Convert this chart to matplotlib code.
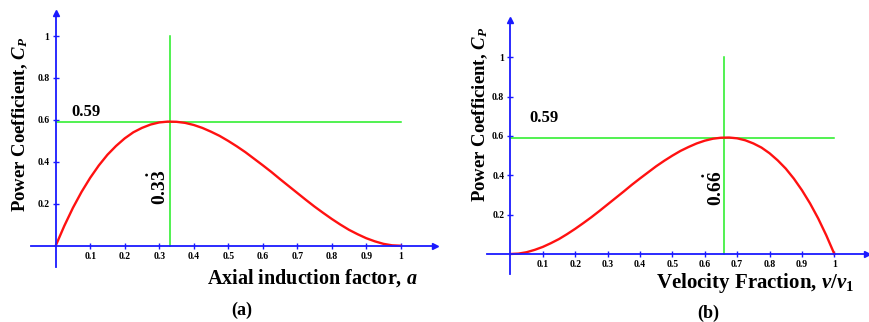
import numpy as np
import matplotlib
matplotlib.use("Agg")
import matplotlib.pyplot as plt

plt.rcParams['font.family'] = ['Liberation Serif', 'DejaVu Serif']
plt.rcParams['font.weight'] = 'bold'
plt.rcParams['mathtext.fontset'] = 'custom'
plt.rcParams['mathtext.rm'] = 'Liberation Serif:bold'
plt.rcParams['mathtext.it'] = 'Liberation Serif:italic:bold'
plt.rcParams['mathtext.bf'] = 'Liberation Serif:bold'

# (a) power coefficient vs axial induction factor
a_vals = [0, 0.025, 0.05, 0.075, 0.1, 0.125, 0.15, 0.175, 0.2, 0.225, 0.25, 0.275,
          0.3, 0.325, 0.35, 0.375, 0.4, 0.425, 0.45, 0.475, 0.5, 0.525, 0.55, 0.575,
          0.6, 0.625, 0.65, 0.675, 0.7, 0.725, 0.75, 0.775, 0.8, 0.825, 0.85, 0.875,
          0.9, 0.925, 0.95, 0.975, 1.0]
cp_a = [0, 0.095, 0.181, 0.257, 0.324, 0.383, 0.434, 0.476, 0.512, 0.541, 0.562, 0.578,
        0.588, 0.592, 0.591, 0.586, 0.576, 0.562, 0.544, 0.524, 0.5, 0.474, 0.446, 0.415,
        0.384, 0.352, 0.318, 0.285, 0.252, 0.219, 0.187, 0.157, 0.128, 0.101, 0.076, 0.055,
        0.036, 0.021, 0.009, 0.002, 0]

# (b) power coefficient vs velocity fraction
v_vals = [0, 0.025, 0.05, 0.075, 0.1, 0.125, 0.15, 0.175, 0.2, 0.225, 0.25, 0.275,
          0.3, 0.325, 0.35, 0.375, 0.4, 0.425, 0.45, 0.475, 0.5, 0.525, 0.55, 0.575,
          0.6, 0.625, 0.65, 0.675, 0.7, 0.725, 0.75, 0.775, 0.8, 0.825, 0.85, 0.875,
          0.9, 0.925, 0.95, 0.975, 1.0]
cp_b = [0, 0.002, 0.009, 0.021, 0.036, 0.055, 0.076, 0.101, 0.128, 0.157, 0.187, 0.219,
        0.252, 0.285, 0.318, 0.352, 0.384, 0.415, 0.446, 0.474, 0.5, 0.524, 0.544, 0.562,
        0.576, 0.586, 0.591, 0.592, 0.588, 0.578, 0.562, 0.541, 0.512, 0.476, 0.434, 0.383,
        0.324, 0.257, 0.181, 0.095, 0]

x_ticks = [0.1, 0.2, 0.3, 0.4, 0.5, 0.6, 0.7, 0.8, 0.9, 1]
y_ticks = [0.2, 0.4, 0.6, 0.8, 1]
cp_max = 0.59
a_opt = 0.33
v_opt = 0.66

W, H = 869, 322
fig = plt.figure(figsize=(W / 100, H / 100), dpi=100)


def make_panel(rect, xlim, ylim, xs, ys, xopt, xend, yend, lbl59, lblopt, ylab):
    l, b, w, h = rect
    ax = fig.add_axes([l / W, b / H, w / W, h / H])
    ax.set_xlim(*xlim)
    ax.set_ylim(*ylim)
    ax.patch.set_alpha(0)
    for s in ['top', 'right']:
        ax.spines[s].set_visible(False)
    for s in ['left', 'bottom']:
        ax.spines[s].set_position(('data', 0))
        ax.spines[s].set_color('#1a1aff')
        ax.spines[s].set_linewidth(1.3)
    ax.spines['bottom'].set_bounds(-0.073, xend)
    ax.spines['left'].set_bounds(-0.1, yend)
    ax.plot(xend, 0, '>', color='#1a1aff', ms=4, clip_on=False)
    ax.plot(0, yend, '^', color='#1a1aff', ms=4, clip_on=False)
    ax.set_xticks(x_ticks)
    ax.set_xticklabels([str(t) for t in x_ticks])
    ax.set_yticks(y_ticks)
    ax.set_yticklabels([str(t) for t in y_ticks])
    ax.tick_params(direction='inout', length=5, width=1, color='#1a1aff',
                   labelsize=7, pad=2)

    ax.plot([0, 1], [cp_max, cp_max], color='#22ee22', lw=1.1)
    ax.plot([xopt, xopt], [0, 1], color='#22ee22', lw=1.1)
    ax.plot(xs, ys, color='#ff1111', lw=1.7)

    ax.text(lbl59[0], lbl59[1], '0.59', fontsize=12, ha='left', va='center')
    ax.text(lblopt[0], lblopt[1], lblopt[2], fontsize=14, rotation=90,
            ha='center', va='center')
    ax.text(ylab[0], ylab[1], r'Power Coefficient, $C_P$', fontsize=13.5,
            rotation=90, ha='center', va='center')
    return ax


ax1 = make_panel((21.2, 51.1, 420.9, 262.1), (-0.1, 1.12), (-0.12, 1.13),
                 a_vals, cp_a, a_opt, 1.10, 1.11,
                 (0.045, 0.64), (0.30, 0.28, r'$0.3\dot{3}$'), (-0.104, 0.58))
ax1.text(1.05, -0.155, r'Axial induction factor, $a$', fontsize=14.5,
         ha='right', va='center')
ax1.text(0.54, -0.31, '(a)', fontsize=13, ha='center', va='center')

ax2 = make_panel((478.0, 44.4, 392.0, 263.6), (-0.1, 1.11), (-0.12, 1.22),
                 v_vals, cp_b, v_opt, 1.10, 1.19,
                 (0.06, 0.69), (0.63, 0.335, r'$0.6\dot{6}$'), (-0.094, 0.71))
ax2.text(1.06, -0.145, r'Velocity Fraction, $v/v_1$', fontsize=15,
         ha='right', va='center')
ax2.text(0.61, -0.30, '(b)', fontsize=13, ha='center', va='center')

fig.savefig('out.png', dpi=100)
